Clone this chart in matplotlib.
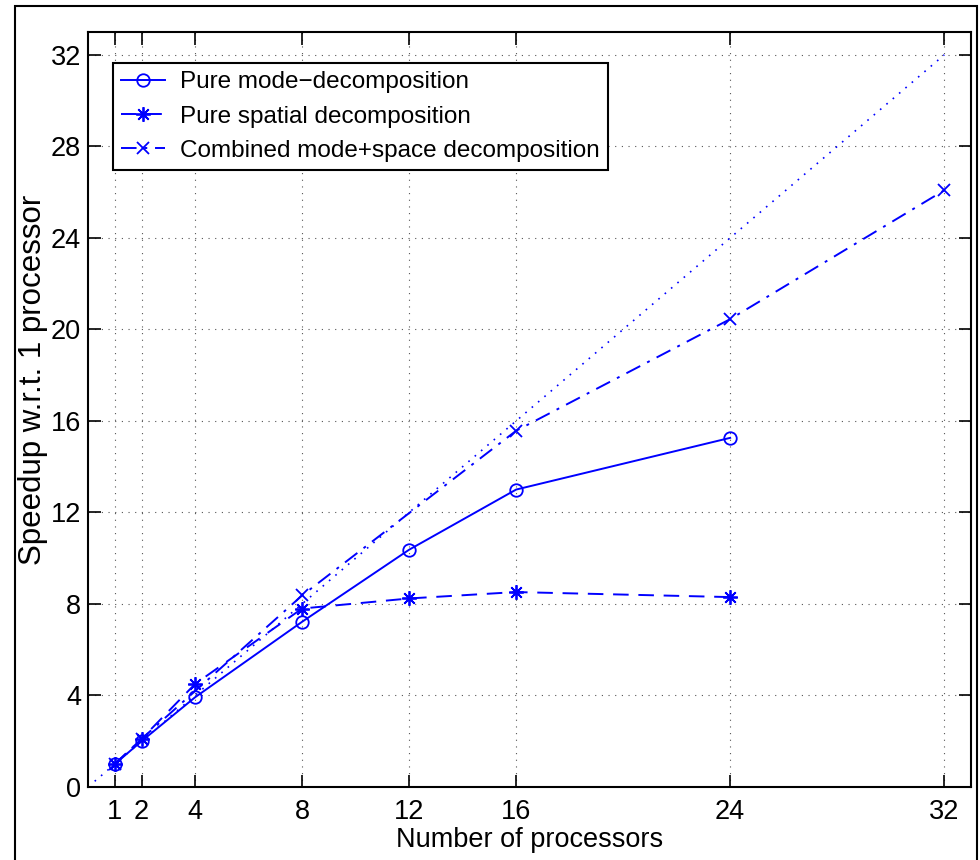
"""
    Speedup vs number of processors
"""
from matplotlib import pyplot as plt
from matplotlib.patches import Rectangle

plt.rcParams['font.family'] = ['Liberation Sans', 'DejaVu Sans']

# data
procs_mode = [1, 2, 4, 8, 12, 16, 24]
speed_mode = [1.0, 2.0, 3.92, 7.22, 10.37, 13.0, 15.26]

procs_spatial = [1, 2, 4, 8, 12, 16, 24]
speed_spatial = [1.0, 2.1, 4.5, 7.8, 8.24, 8.52, 8.3]

procs_comb = [1, 2, 8, 16, 24, 32]
speed_comb = [1.0, 2.1, 8.37, 15.57, 20.45, 26.08]

ideal_x = [0.25, 32]
ideal_y = [0.25, 32]

xticks = [1, 2, 4, 8, 12, 16, 24, 32]
yticks = [0, 4, 8, 12, 16, 20, 24, 28, 32]

blue = '#0000ff'

fig = plt.figure(figsize=(9.8, 8.6), dpi=100)
ax = fig.add_axes([0.0898, 0.0849, 0.9010, 0.8779])

# ideal line (no legend entry)
ax.plot(ideal_x, ideal_y, color=blue, linestyle=(0, (1, 4)), linewidth=1.2)

ax.plot(procs_mode, speed_mode, color=blue, linestyle='-', linewidth=1.4,
        marker='o', markersize=9, markerfacecolor='none', markeredgewidth=1.3,
        label='Pure mode\u2212decomposition')
ax.plot(procs_spatial, speed_spatial, color=blue, linestyle=(0, (8, 5)), linewidth=1.4,
        marker=(8, 2, 0), markersize=10.5, markeredgewidth=1.3,
        label='Pure spatial decomposition')
ax.plot(procs_comb, speed_comb, color=blue, linestyle=(0, (8, 4, 1.5, 4)), linewidth=1.4,
        marker='x', markersize=8.5, markeredgewidth=1.3,
        label='Combined mode+space decomposition')

ax.set_xlim(0, 33)
ax.set_ylim(0, 33)
ax.set_xticks(xticks)
ax.set_yticks(yticks)

ax.grid(True, color='#555555', linestyle=(0, (1, 5)), linewidth=0.8)
ax.tick_params(direction='in', length=9, width=1.2, top=True, right=True,
               labelsize=19.5, colors='black')
ax.tick_params(axis='x', pad=9)
ax.tick_params(axis='y', pad=5)
for s in ax.spines.values():
    s.set_linewidth(1.5)

ax.set_xlabel('Number of processors', fontsize=19.5, labelpad=1)
ax.set_ylabel('Speedup w.r.t. 1 processor', fontsize=22.5)
ax.yaxis.set_label_coords(-0.045, 0.539)

leg = ax.legend(loc='upper left', bbox_to_anchor=(0.028, 0.959), borderaxespad=0,
                fontsize=17.5, handlelength=1.8, handletextpad=0.6,
                labelspacing=0.5, borderpad=0.35, fancybox=False,
                framealpha=1, edgecolor='black')
leg.get_frame().set_linewidth(1.5)

# frame around the whole figure
fig.patches.append(Rectangle((0.0153, -0.02), 0.9816, 1.013, transform=fig.transFigure,
                             fill=False, edgecolor='black', linewidth=1.5))

fig.savefig('out.png', dpi=100)
